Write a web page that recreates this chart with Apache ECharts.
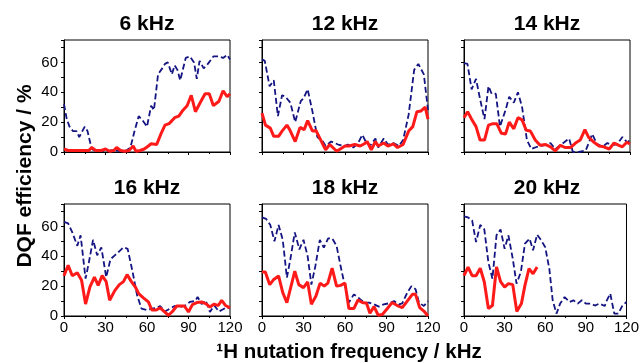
<!DOCTYPE html>
<html>
<head>
<meta charset="utf-8">
<script src="https://cdn.jsdelivr.net/npm/echarts@6/dist/echarts.min.js"></script>
<style>
  html, body { margin: 0; padding: 0; background: #fff; }
  #chart { width: 642px; height: 363px; }
</style>
</head>
<body>
<div id="chart"></div>
<script>
// panel titles (spinning rates)
const panelTitles = ['6 kHz', '12 kHz', '14 kHz', '16 kHz', '18 kHz', '20 kHz'];

// [1H nutation frequency / kHz, DQF efficiency / %]
const red6 = [[0,2],[3,1],[6,1],[10,1],[15,1],[18,1],[20,3],[23,1],[27,1],[30,2],[33,0.5],[36,1],[38,3],[41,1],[44,0.5],[47,1],[50,4],[52,0.5],[55,1],[58,2],[61,4],[63,5.5],[67,5],[70,12],[73,18],[76,19],[80,23],[83,24],[86,28],[89,31],[92,38],[95,27],[99,34],[102,39],[105,39],[108,31],[112,34],[115,41],[118,37],[120,39]];
const blue6 = [[0,32],[2,22],[4,17],[6.5,14],[9,14],[11,10],[15,17],[17,14],[20,2],[22,1],[26,1],[30,0.5],[34,1],[38,1],[42,0.5],[45,1],[48,3],[51,14],[54,24],[57,21],[60,17],[63,31],[65,28],[68,52],[71,56],[73,59],[75,60],[78,52],[80,58],[82,55],[84,48],[88,63],[91,64],[94,60],[96,49],[98,61],[101,56],[104,59],[108,64],[112,64],[115,63],[118,65],[120,62]];

const red12 = [[0,26],[2.5,18],[6,16],[8.5,10.5],[12,10.5],[14.5,14],[18,18],[20,15],[24,7],[27.5,16.5],[30.5,15],[33,21],[36.5,14],[39,14.5],[43,7],[46,1.5],[49,5],[54,0.5],[60,4],[63,4],[67,5],[71,4],[74,5.5],[76,7],[79,1.5],[82,7],[84,4],[88,6],[91,4],[95,5.5],[98,3],[102,5],[106,14],[109,17],[112,27],[115,27.5],[118,30],[120,22]];
const blue12 = [[0,62],[2,61],[5.5,44],[8.5,48],[11.5,24],[14.5,38],[17,37],[20.5,33],[24,20],[28,34],[30,36],[33,42],[36.5,27],[40,10],[44,7],[46,4],[50,7],[55,5],[60,4],[62,5],[66,3],[69.5,6],[72.5,11.5],[75,7],[78,4],[82,9],[84,3],[88,9],[91,5],[95,6],[99,4],[102,8],[106,25],[110,55],[113,59],[117,52],[120,28]];

const red14 = [[0,23],[2.6,27],[5.5,22],[8.7,17],[11.6,8],[14.8,8],[17.7,18],[21,19],[23.7,19],[27,12.5],[30,12],[32.7,20],[36,15.5],[39,23],[42,21.5],[45,14.5],[48,14],[51.5,8],[55,4.5],[59,5],[62.5,3.5],[66,0.7],[69.7,4.5],[73,3],[77,3],[80.6,6],[84,8],[87.4,15],[90,10],[94,6.5],[97.6,4],[101,3.5],[105,2],[108.5,6],[112,4.5],[114.5,3.5],[117.7,6.5],[120,5.5]];
const blue14 = [[0,59.5],[2.5,59],[5.5,42],[8.7,49],[11.6,35.5],[14.8,22],[17.7,44],[20,39],[23,39],[26,17],[30,28],[32.7,37],[36,33],[39,40],[42,30],[45.5,8],[48.7,2],[52.8,3.5],[57.6,4.5],[62.5,6],[66,2],[71,5.5],[76,9],[78.7,0],[83,0],[88,1],[92.7,12],[96,5.5],[100,3.5],[103.6,6],[107,4.5],[111,5.5],[114.5,10],[118,6.5],[120,8]];

const red16 = [[0,27],[3,34],[6,27],[9.6,29],[12.7,24],[15.6,8],[18.7,19.4],[22,26],[24.7,20.5],[27.6,27],[30.5,23],[33,10.5],[36.7,17],[40,21],[43,23],[45.6,27.7],[48.7,23],[51.6,19.4],[54,15],[57.6,12],[61,9.4],[63.5,4],[66.7,4],[69.5,5.4],[72.7,2.7],[75.5,0.5],[78.4,3],[81.5,6.7],[84.6,6.7],[87,6.7],[90,2.7],[92.8,7.6],[96,9],[99.5,9.4],[103,8],[105.5,6],[108.6,8],[111.5,7],[114,10.5],[116.8,7],[120,5.4]];
const blue16 = [[0,63],[3,62],[6,56],[9.6,47],[12,54],[15.6,25],[18,36],[21,51],[24,40.6],[27,46],[30.5,26],[33.6,38],[36.7,40.6],[39.6,43],[43,46],[46,45],[49.6,29.5],[52.8,14],[56,5],[60,4],[63.5,5],[67,5.4],[69.5,6.7],[73,3],[76.7,5],[80,6.7],[84,6],[87.5,7],[91,9.4],[94.7,10],[96.6,12.7],[99.5,8],[102.4,10.5],[105.5,2.7],[108.6,7],[112,3],[115,4.5],[117.6,6],[120,5]];

const red18 = [[0,29.5],[2.4,29.5],[5.6,21],[8.5,24.5],[12,26.8],[15,15.6],[18,9],[21,20],[23.7,30],[26.6,21],[30,19],[33,22.8],[35.7,7.8],[39,13.4],[42,22],[45,20],[47.6,22],[50.7,32],[53.9,20],[56.8,20.5],[60,22],[62.8,5],[66.4,5],[69.4,10.7],[72.5,9],[75.6,8.5],[78,1.8],[81,6.3],[84,0.5],[87,1],[90.6,5],[94,9],[97.8,7],[101.4,5.6],[105,10],[108.7,14.5],[111,14.5],[114,5.6],[117,3.3],[120,0]];
const blue18 = [[0,66],[3,65],[6,61],[9,50],[12,61],[15,51],[18,25.7],[20.5,38],[23.7,56],[27,44.6],[30,51],[33,40],[35.7,21],[38.6,33.5],[41.8,51],[44.7,45.8],[47.8,52],[50.7,52],[53.9,47],[56.8,33.5],[59.7,21],[62.8,9],[66.4,14.5],[70,12],[73.7,9],[77.3,9],[81,7.8],[84.5,6.3],[88,7.8],[91.8,8.5],[95.4,10],[99,7.8],[101.4,8.5],[105,15.6],[108,20],[111,17.9],[113.5,9],[117,6.7],[120,10]];

const red20 = [[0,27],[3,32.8],[6,27],[8.9,27],[12,32],[15,22.8],[18,5],[21,7],[24,32.8],[27,23],[30,19.4],[32.8,21.7],[36,21],[39,3],[42.4,8.3],[45,20.5],[48,31.7],[51,28.3],[54,32.8]];
const blue20 = [[0,66.7],[3,66],[6,64],[8.9,49.5],[12,61],[15,58],[18,36],[21,25],[24,54],[27,58],[30,45],[32.8,54],[36,38.4],[38.8,21.7],[42,29.5],[45,48.4],[48.4,51.8],[51,44],[54,54.5],[57,50.7],[60,46],[63,31.7],[65.5,10.5],[68.3,1.6],[71,8.3],[74.3,12.7],[78,9.4],[80.8,10.5],[84,8.3],[87,10.5],[90,8.3],[93.5,8.3],[96.6,7],[100,8.3],[104,6.7],[105.5,10.5],[108,15],[111,1.6],[114,1.6],[117,7],[120,9.4]];

const redSets = [red6, red12, red14, red16, red18, red20];
const blueSets = [blue6, blue12, blue14, blue16, blue18, blue20];

const FONT = '"Liberation Sans", Arial, Helvetica, sans-serif';
const colLeft = [64, 262, 464];
const rowTop = [40, 204];
const W = 166, H = 112;

const chart = echarts.init(document.getElementById('chart'));

const grids = [], xAxes = [], yAxes = [], series = [], graphics = [];

for (let i = 0; i < 6; i++) {
    const col = i % 3, row = Math.floor(i / 3);
    grids.push({
        left: colLeft[col], top: rowTop[row], width: W, height: H,
        show: true, borderColor: '#000', borderWidth: 1, backgroundColor: 'transparent',
    });
    xAxes.push({
        type: 'value', gridIndex: i, min: 0, max: 120, interval: 30,
        axisLine: { show: true, onZero: false, lineStyle: { color: '#000', width: 1 } },
        axisTick: { show: true, length: 3, lineStyle: { color: '#000' } },
        minorTick: { show: true, splitNumber: 2, length: 2, lineStyle: { color: '#000' } },
        axisLabel: { show: row === 1, color: '#000', fontSize: 15, fontFamily: FONT, margin: 4 },
        splitLine: { show: false },
    });
    yAxes.push({
        type: 'value', gridIndex: i, min: 0, max: 75, interval: 10,
        axisLine: { show: true, lineStyle: { color: '#000', width: 1 } },
        axisTick: { show: true, length: 3, lineStyle: { color: '#000' } },
        axisLabel: {
            show: col === 0, color: '#000', fontSize: 15, fontFamily: FONT, margin: 6,
            formatter: (v) => (v % 20 === 0 && v <= 60 ? String(v) : ''),
        },
        splitLine: { show: false },
    });
    series.push({
        type: 'line', xAxisIndex: i, yAxisIndex: i, data: blueSets[i],
        symbol: 'none', silent: true, z: 2,
        lineStyle: { color: '#141482', width: 1.8, type: [6, 3] },
    });
    series.push({
        type: 'line', xAxisIndex: i, yAxisIndex: i, data: redSets[i],
        symbol: 'none', silent: true, z: 3,
        lineStyle: { color: '#ff1a1a', width: 3 },
    });
    graphics.push({
        type: 'text', x: colLeft[col] + W / 2, y: rowTop[row] - 16,
        style: { text: panelTitles[i], font: 'bold 21px ' + FONT, fill: '#000', textAlign: 'center', textVerticalAlign: 'middle' },
    });
}

graphics.push({
    type: 'text', x: 25, y: 176, rotation: Math.PI / 2,
    style: { text: 'DQF efficiency / %', font: 'bold 21px ' + FONT, fill: '#000', textAlign: 'center', textVerticalAlign: 'middle' },
});
graphics.push({
    type: 'text', x: 349, y: 352,
    style: { text: '¹H nutation frequency / kHz', font: 'bold 20.5px ' + FONT, fill: '#000', textAlign: 'center', textVerticalAlign: 'middle' },
});

chart.setOption({
    animation: false,
    backgroundColor: '#fff',
    grid: grids,
    xAxis: xAxes,
    yAxis: yAxes,
    series: series,
    graphic: graphics,
});
</script>
</body>
</html>
